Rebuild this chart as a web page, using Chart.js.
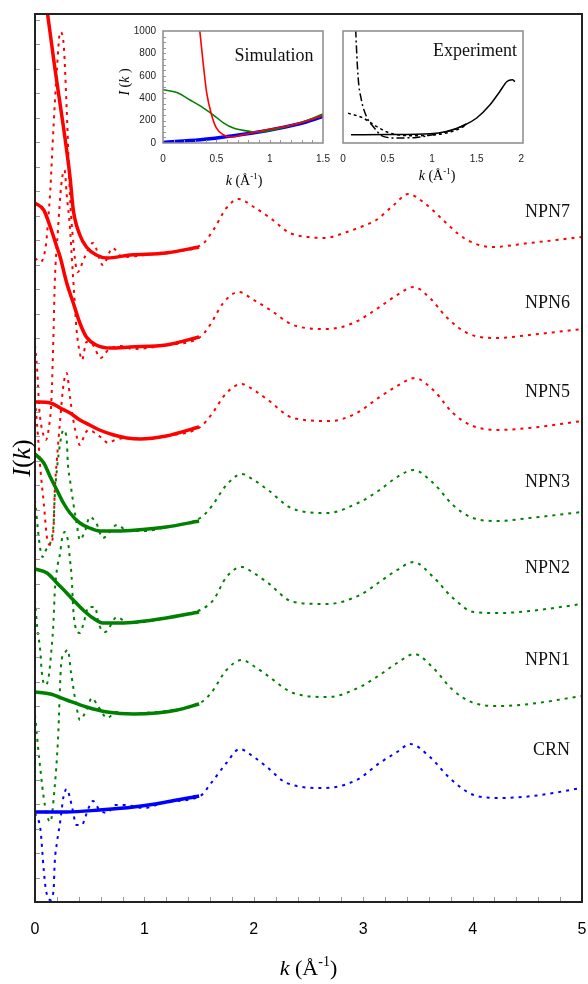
<!DOCTYPE html>
<html>
<head>
<meta charset="utf-8">
<script src="https://cdn.jsdelivr.net/npm/chart.js@4.4.0/dist/chart.umd.min.js"></script>
<style>
  html, body { margin: 0; padding: 0; background: #fff; }
  #wrap { position: relative; width: 588px; height: 984px; }
  #main { position: absolute; left: 0; top: 0; }
  #sim { position: absolute; left: 100px; top: 20px; }
  #exp { position: absolute; left: 335px; top: 20px; }
</style>
</head>
<body>
<div id="wrap">
  <canvas id="main" width="588" height="984"></canvas>
  <canvas id="sim" width="235" height="172"></canvas>
  <canvas id="exp" width="200" height="172"></canvas>
</div>
<script>
/* Stacked I(k) curves (offset, arbitrary units) with two insets.
   Solid = simulation (k <= 1.5), dotted = experiment. */

const SERIF = '"Liberation Serif", "Times New Roman", serif';
const SANS = '"Liberation Sans", Arial, sans-serif';
const RED = '#ff0000', GREEN = '#008000', BLUE = '#0000ff';

// ---- main panel data (k in 1/Å, I offset per sample) ----
const kSolidNPN7 = [0, 0.11, 0.18, 0.26, 0.32, 0.35, 0.41, 0.47, 0.56, 0.66, 0.87, 1.2, 1.5];
const iSolidNPN7 = [97.2, 89.2, 83.5, 77.5, 72.5, 69.2, 66.7, 65.5, 64.7, 64.4, 64.7, 64.9, 65.5];
const kDotNPN7 = [0, 0.05, 0.1, 0.12, 0.14, 0.17, 0.2, 0.23, 0.26, 0.29, 0.32, 0.34, 0.39, 0.45, 0.53, 0.62, 0.71, 0.8, 1.0, 1.2,
  1.52, 1.63, 1.75, 1.86, 2.0, 2.15, 2.33, 2.5, 2.64, 2.85, 3.0, 3.12, 3.28, 3.41, 3.56, 3.73, 3.92, 4.17, 4.52, 5.0];
const iDotNPN7 = [64.4, 64.0, 65.7, 68.2, 71.2, 77.7, 83.2, 87.0, 86.0, 79.2, 70.5, 67.2, 63.0, 64.4, 65.9, 63.7, 65.4, 64.5, 64.7, 65.0,
  65.7, 67.2, 69.4, 70.3, 69.5, 68.4, 66.9, 66.5, 66.4, 67.0, 67.6, 68.2, 69.7, 70.8, 69.9, 68.2, 66.4, 65.5, 65.9, 66.5];

const kSolidNPN6 = [0, 0.08, 0.14, 0.2, 0.23, 0.29, 0.35, 0.41, 0.47, 0.56, 0.69, 0.87, 1.2, 1.5];
const iSolidNPN6 = [69.9, 69.2, 67.5, 65.5, 64.5, 61.9, 59.9, 57.9, 56.5, 55.7, 55.4, 55.5, 55.7, 56.5];
const kDotNPN6 = [0, 0.02, 0.04, 0.07, 0.1, 0.13, 0.15, 0.17, 0.18, 0.21, 0.24, 0.27, 0.29, 0.32, 0.335, 0.36, 0.38, 0.41, 0.43, 0.47,
  0.53, 0.6, 0.67, 0.78, 0.9, 1.2, 1.51, 1.6, 1.72, 1.86, 2.0, 2.15, 2.36, 2.67, 2.91, 3.15, 3.31, 3.46, 3.61, 3.76,
  3.95, 4.22, 4.52, 5.0];
const iDotNPN6 = [55.7, 53.2, 49.2, 47.0, 46.2, 47.7, 50.2, 57.2, 61.7, 67.2, 71.7, 73.2, 70.7, 67.4, 64.7, 60.5, 57.2, 54.9, 54.2, 56.0,
  55.7, 54.4, 55.2, 55.6, 55.3, 55.7, 56.5, 57.7, 59.9, 61.0, 60.2, 59.2, 57.7, 57.3, 57.9, 59.5, 60.7, 61.5, 60.4, 58.5,
  56.9, 56.4, 56.7, 57.3];

const kSolidNPN5 = [0, 0.14, 0.23, 0.32, 0.41, 0.5, 0.59, 0.72, 0.84, 0.96, 1.2, 1.5];
const iSolidNPN5 = [50.0, 49.9, 49.4, 48.9, 48.2, 47.7, 47.2, 46.7, 46.4, 46.3, 46.6, 47.5];
const kDotNPN5 = [0, 0.03, 0.05, 0.08, 0.11, 0.14, 0.17, 0.18, 0.2, 0.23, 0.26, 0.29, 0.32, 0.35, 0.39, 0.41, 0.46, 0.49, 0.55, 0.6,
  0.67, 0.73, 0.85, 1.0, 1.2, 1.51, 1.61, 1.75, 1.89, 2.0, 2.13, 2.36, 2.7, 2.94, 3.15, 3.31, 3.47, 3.64, 3.82, 3.98,
  4.22, 4.52, 5.0];
const iDotNPN5 = [50.2, 46.2, 43.2, 39.9, 36.4, 35.7, 37.5, 40.9, 44.2, 48.2, 51.7, 52.9, 50.5, 48.2, 46.2, 45.7, 46.9, 47.2, 46.9, 46.5,
  45.9, 46.2, 46.4, 46.3, 46.6, 47.5, 48.7, 50.9, 51.8, 51.2, 50.2, 48.4, 48.1, 48.9, 50.5, 51.6, 52.4, 51.2, 48.9, 47.7,
  47.2, 47.4, 48.1];

const kSolidNPN3 = [0, 0.08, 0.14, 0.2, 0.26, 0.32, 0.41, 0.5, 0.59, 0.75, 0.93, 1.2, 1.5];
const iSolidNPN3 = [44.8, 43.9, 42.5, 41.2, 39.9, 38.9, 37.9, 37.4, 37.1, 37.1, 37.2, 37.5, 38.1];
const kDotNPN3 = [0, 0.03, 0.05, 0.07, 0.1, 0.14, 0.17, 0.18, 0.2, 0.23, 0.26, 0.29, 0.3, 0.32, 0.35, 0.38, 0.41, 0.46, 0.5, 0.56,
  0.62, 0.75, 0.85, 1.0, 1.2, 1.51, 1.61, 1.75, 1.89, 2.0, 2.13, 2.36, 2.67, 2.97, 3.15, 3.31, 3.46, 3.64, 3.82, 3.98,
  4.22, 4.52, 5.0];
const iDotNPN3 = [40.2, 36.9, 35.2, 34.5, 35.2, 35.9, 37.9, 40.5, 43.2, 45.9, 47.2, 46.2, 43.9, 42.2, 39.9, 37.9, 36.2, 37.2, 38.5, 37.9,
  36.4, 37.7, 37.1, 37.1, 37.5, 38.4, 39.5, 41.7, 42.8, 42.2, 41.2, 39.3, 38.9, 40.0, 41.2, 42.5, 43.2, 41.9, 39.7, 38.5,
  38.1, 38.4, 39.0];

const kSolidNPN2 = [0, 0.11, 0.2, 0.29, 0.35, 0.44, 0.53, 0.62, 0.78, 0.93, 1.2, 1.5];
const iSolidNPN2 = [33.3, 32.9, 31.9, 30.9, 30.2, 29.2, 28.4, 27.9, 27.9, 28.0, 28.4, 29.0];
const kDotNPN2 = [0, 0.02, 0.05, 0.06, 0.09, 0.12, 0.15, 0.17, 0.18, 0.2, 0.23, 0.245, 0.27, 0.3, 0.32, 0.335, 0.35, 0.37, 0.41, 0.44,
  0.49, 0.55, 0.58, 0.64, 0.75, 0.85, 1.0, 1.2, 1.51, 1.63, 1.75, 1.89, 2.0, 2.13, 2.36, 2.67, 2.97, 3.15, 3.31, 3.46,
  3.64, 3.82, 4.01, 4.25, 4.52, 5.0];
const iDotNPN2 = [30.2, 27.5, 24.9, 23.2, 21.7, 22.2, 25.2, 28.2, 30.9, 33.2, 34.9, 36.2, 37.0, 36.2, 34.2, 32.5, 29.2, 27.5, 26.9, 27.7,
  29.5, 29.5, 27.9, 27.0, 28.5, 27.9, 28.0, 28.4, 29.2, 30.2, 32.5, 33.5, 32.9, 31.9, 30.0, 29.8, 30.7, 32.0, 33.2, 34.0,
  32.5, 30.4, 29.0, 28.9, 29.1, 29.8];

const kSolidNPN1 = [0, 0.14, 0.29, 0.47, 0.66, 0.9, 1.11, 1.3, 1.5];
const iSolidNPN1 = [21.0, 20.8, 20.2, 19.5, 19.0, 18.8, 18.9, 19.2, 19.8];
const kDotNPN1 = [0, 0.04, 0.09, 0.14, 0.18, 0.21, 0.24, 0.27, 0.3, 0.33, 0.38, 0.41, 0.47, 0.52, 0.58, 0.66, 0.74, 0.85, 1.0, 1.2,
  1.51, 1.61, 1.75, 1.89, 2.0, 2.13, 2.36, 2.68, 2.97, 3.15, 3.31, 3.47, 3.64, 3.82, 4.01, 4.25, 4.52, 5.0];
const iDotNPN1 = [18.7, 14.2, 9.7, 8.0, 11.5, 16.2, 23.9, 24.9, 25.2, 22.9, 19.5, 18.2, 19.2, 20.4, 19.5, 18.4, 19.0, 18.8, 18.9, 19.1,
  19.9, 20.9, 23.2, 24.2, 23.6, 22.6, 20.9, 20.5, 21.5, 22.7, 23.9, 24.8, 23.4, 21.2, 19.9, 19.6, 19.8, 20.6];

const kSolidCRN = [0, 0.29, 0.59, 0.9, 1.2, 1.5];
const iSolidCRN = [9.0, 9.0, 9.2, 9.5, 10.0, 10.6];
const kDotCRN = [0, 0.05, 0.08, 0.1, 0.14, 0.17, 0.18, 0.2, 0.23, 0.26, 0.29, 0.32, 0.34, 0.38, 0.43, 0.46, 0.49, 0.53, 0.59, 0.66,
  0.73, 0.81, 1.0, 1.2, 1.51, 1.61, 1.75, 1.87, 2.0, 2.12, 2.3, 2.64, 2.94, 3.15, 3.31, 3.43, 3.61, 3.79, 4.01, 4.25,
  4.55, 5.0];
const iDotCRN = [8.9, 7.2, 3.2, 1.2, 0.2, 1.2, 3.9, 5.9, 8.0, 10.5, 11.3, 10.4, 9.4, 7.7, 7.7, 8.5, 9.4, 10.1, 9.2, 8.9,
  9.7, 9.7, 9.4, 10.0, 10.6, 11.9, 13.9, 15.3, 14.5, 13.5, 11.9, 11.4, 12.2, 13.9, 15.0, 15.8, 14.5, 12.4, 10.7, 10.4,
  10.6, 11.4];

// curve labels and the level they sit at
const sampleNames = ['NPN7', 'NPN6', 'NPN5', 'NPN3', 'NPN2', 'NPN1', 'CRN'];
const sampleLabelLevel = [69.0, 59.9, 51.0, 42.0, 33.4, 24.2, 15.2];

// ---- inset: simulation ----
const kSimBlue = [0, 0.35, 0.66, 0.97, 1.28, 1.5];
const iSimBlue = [5, 29, 65, 110, 172, 237];
const kSimGreen = [0, 0.13, 0.25, 0.38, 0.47, 0.57, 0.66, 0.82, 0.91, 1.04, 1.28, 1.5];
const iSimGreen = [475, 451, 386, 312, 252, 178, 134, 103, 98, 118, 178, 258];
const kSimRed = [0.32, 0.345, 0.38, 0.41, 0.455, 0.5, 0.565, 0.64, 0.75, 0.97, 1.22, 1.5];
const iSimRed = [1260, 1000, 682, 445, 252, 134, 74, 53, 74, 118, 163, 243];

// ---- inset: experiment (arbitrary units) ----
const kExpSolid = [0.09, 0.5, 0.98, 1.16, 1.35, 1.5, 1.65, 1.76, 1.84, 1.9, 1.93];
const iExpSolid = [7.4, 7.6, 8.3, 10.3, 15.4, 22.3, 34.1, 46, 54.9, 56.4, 54.9];
const kExpDashDot = [0.13, 0.143, 0.169, 0.206, 0.263, 0.338, 0.45, 0.6, 0.825, 1.09, 1.24, 1.39];
const iExpDashDot = [130, 100, 59.3, 38.6, 23.7, 14.8, 5.9, 4.5, 5, 8.9, 11.8, 17.2];
const kExpDotted = [0.056, 0.225, 0.375, 0.525, 0.79, 1.05, 1.28, 1.39];
const iExpDotted = [26.7, 22.3, 14.8, 8.9, 6.5, 7.4, 11.8, 16.3];
const expTickValues = [0, 0.5, 1, 1.5, 2];

const Y_MAX = 88.8;     // top of main frame
const Y_TICK = 2.45;    // minor tick spacing on the main y axis

/* ---------- helpers ---------- */

function pts(ks, vals) {
  return ks.map((k, i) => ({ x: k, y: vals[i] }));
}

function line(ks, vals, color, opts) {
  return Object.assign({
    data: pts(ks, vals),
    borderColor: color,
    borderWidth: 1.5,
    pointRadius: 0,
    fill: false,
    cubicInterpolationMode: 'monotone',
  }, opts || {});
}

// invisible tick marks: they only push the labels away from the axis
// (ticks.padding would also widen the chart's side padding)
function gapGrid(len) {
  return { display: true, drawOnChartArea: false, drawTicks: true, tickLength: len, tickColor: 'rgba(0,0,0,0)' };
}

// text made of roman / italic / superscript pieces, centred on (cx, cy)
function drawRich(ctx, parts, cx, cy, size, angle) {
  ctx.save();
  ctx.translate(cx, cy);
  if (angle) ctx.rotate(angle);
  ctx.fillStyle = '#000';
  ctx.textBaseline = 'alphabetic';
  ctx.textAlign = 'left';
  const fontOf = (p) => (p.italic ? 'italic ' : '') + Math.round(p.sup ? size * 0.62 : size) + 'px ' + SERIF;
  let w = 0;
  const widths = parts.map((p) => { ctx.font = fontOf(p); const m = ctx.measureText(p.t).width; w += m; return m; });
  let x = -w / 2;
  const base = size * 0.33;
  parts.forEach((p, i) => {
    ctx.font = fontOf(p);
    ctx.fillText(p.t, x, p.sup ? base - size * 0.4 : base);
    x += widths[i];
  });
  ctx.restore();
}

const K_TITLE = [{ t: 'k', italic: true }, { t: ' (Å' }, { t: '-1', sup: true }, { t: ')' }];
const I_TITLE = [{ t: 'I', italic: true }, { t: '(' }, { t: 'k', italic: true }, { t: ')' }];
const I_TITLE_SMALL = [{ t: 'I', italic: true }, { t: ' (' }, { t: 'k', italic: true }, { t: ' )' }];

/* ---------- main panel ---------- */

const samples = [
  [kSolidNPN7, iSolidNPN7, kDotNPN7, iDotNPN7, RED],
  [kSolidNPN6, iSolidNPN6, kDotNPN6, iDotNPN6, RED],
  [kSolidNPN5, iSolidNPN5, kDotNPN5, iDotNPN5, RED],
  [kSolidNPN3, iSolidNPN3, kDotNPN3, iDotNPN3, GREEN],
  [kSolidNPN2, iSolidNPN2, kDotNPN2, iDotNPN2, GREEN],
  [kSolidNPN1, iSolidNPN1, kDotNPN1, iDotNPN1, GREEN],
  [kSolidCRN, iSolidCRN, kDotCRN, iDotCRN, BLUE],
];

const mainSets = [];
samples.forEach(([ks, is, kd, id, c]) => {
  mainSets.push(line(kd, id, c, { borderWidth: 2, borderDash: [3, 5], order: 2 }));
  mainSets.push(line(ks, is, c, { borderWidth: 3.5, order: 1 }));
});

const mainDecor = {
  id: 'mainDecor',
  afterDraw(chart) {
    const { ctx, chartArea: a, scales: { x, y } } = chart;
    ctx.save();
    // small inward ticks
    ctx.strokeStyle = '#9a9a9a';
    ctx.lineWidth = 1;
    ctx.beginPath();
    for (let v = Y_TICK; v < Y_MAX; v += Y_TICK) {
      const py = Math.round(y.getPixelForValue(v)) + 0.5;
      ctx.moveTo(a.left, py); ctx.lineTo(a.left + 5, py);
    }
    for (let i = 1; i < 25; i++) {
      const px = Math.round(x.getPixelForValue(i * 0.2)) + 0.5;
      ctx.moveTo(px, a.bottom); ctx.lineTo(px, a.bottom - 5);
    }
    ctx.stroke();
    // frame
    ctx.strokeStyle = '#222';
    ctx.lineWidth = 2;
    ctx.strokeRect(a.left, a.top, a.right - a.left, a.bottom - a.top);
    // sample names
    ctx.fillStyle = '#111';
    ctx.font = '18px ' + SERIF;
    ctx.textAlign = 'right';
    ctx.textBaseline = 'middle';
    sampleNames.forEach((n, i) => ctx.fillText(n, x.getPixelForValue(4.89), y.getPixelForValue(sampleLabelLevel[i])));
    // axis titles
    drawRich(ctx, K_TITLE, (a.left + a.right) / 2, 968, 22);
    drawRich(ctx, I_TITLE, 21, (a.top + a.bottom) / 2, 26, -Math.PI / 2);
    ctx.restore();
  },
};

new Chart(document.getElementById('main'), {
  type: 'line',
  data: { datasets: mainSets },
  options: {
    responsive: false,
    animation: false,
    devicePixelRatio: 1,
    layout: { padding: { top: 14, right: 6, left: 0, bottom: 0 } },
    plugins: { legend: { display: false }, tooltip: { enabled: false } },
    scales: {
      x: {
        type: 'linear', min: 0, max: 5,
        grid: gapGrid(18),
        border: { display: false },
        ticks: { stepSize: 1, padding: 0, color: '#000', font: { family: SANS, size: 16 } },
        afterFit: (s) => { s.height = 82; },
      },
      y: {
        type: 'linear', min: 0, max: Y_MAX,
        grid: { display: false, drawTicks: false },
        border: { display: false },
        ticks: { display: false, padding: 0 },
        afterFit: (s) => { s.width = 35; },
      },
    },
  },
  plugins: [mainDecor],
});

/* ---------- insets ---------- */

function insetDecor(id, opts) {
  return {
    id,
    afterDraw(chart) {
      const { ctx, chartArea: a, scales: { x, y } } = chart;
      ctx.save();
      if (opts.ticks) {
        ctx.strokeStyle = '#999';
        ctx.lineWidth = 1;
        ctx.beginPath();
        for (let v = 50; v < 1000; v += 50) {
          const py = Math.round(y.getPixelForValue(v)) + 0.5;
          ctx.moveTo(a.left, py); ctx.lineTo(a.left + 3, py);
        }
        for (let i = 1; i < 15; i++) {
          const px = Math.round(x.getPixelForValue(i * 0.1)) + 0.5;
          ctx.moveTo(px, a.bottom); ctx.lineTo(px, a.bottom - 3);
        }
        ctx.stroke();
      }
      ctx.strokeStyle = '#8a8a8a';
      ctx.lineWidth = 1.5;
      ctx.strokeRect(a.left, a.top, a.right - a.left, a.bottom - a.top);
      ctx.fillStyle = '#111';
      ctx.font = '18px ' + SERIF;
      ctx.textAlign = 'center';
      ctx.textBaseline = 'middle';
      ctx.fillText(opts.name, opts.nameX, opts.nameY);
      drawRich(ctx, K_TITLE, opts.kx, opts.ky, 14);
      if (opts.iTitle) drawRich(ctx, I_TITLE_SMALL, 24, 62, 14, -Math.PI / 2);
      ctx.restore();
    },
  };
}

const insetTickFont = { family: SANS, size: 10 };
const plainLabel = (v) => String(v);

new Chart(document.getElementById('sim'), {
  type: 'line',
  data: {
    datasets: [
      line(kSimBlue, iSimBlue, BLUE, { borderWidth: 3.5, order: 3 }),
      line(kSimGreen, iSimGreen, GREEN, { borderWidth: 1.6, order: 2 }),
      line(kSimRed, iSimRed, RED, { borderWidth: 1.6, order: 1 }),
    ],
  },
  options: {
    responsive: false,
    animation: false,
    devicePixelRatio: 1,
    layout: { padding: { top: 11, right: 12, left: 0, bottom: 0 } },
    plugins: { legend: { display: false }, tooltip: { enabled: false } },
    scales: {
      x: {
        type: 'linear', min: 0, max: 1.5,
        grid: gapGrid(10),
        border: { display: false },
        ticks: { stepSize: 0.5, padding: 0, color: '#222', font: insetTickFont, callback: plainLabel },
        afterFit: (s) => { s.height = 49; },
      },
      y: {
        type: 'linear', min: 0, max: 1000,
        grid: gapGrid(7),
        border: { display: false },
        ticks: { stepSize: 200, padding: 0, color: '#222', font: insetTickFont, callback: plainLabel },
        afterFit: (s) => { s.width = 63; },
      },
    },
  },
  plugins: [insetDecor('simDecor', { ticks: true, name: 'Simulation', nameX: 174, nameY: 36, kx: 144, ky: 160, iTitle: true })],
});

new Chart(document.getElementById('exp'), {
  type: 'line',
  data: {
    datasets: [
      line(kExpDotted, iExpDotted, '#000', { borderWidth: 1.5, borderDash: [3, 3] }),
      line(kExpDashDot, iExpDashDot, '#000', { borderWidth: 1.5, borderDash: [8, 3, 2, 3] }),
      line(kExpSolid, iExpSolid, '#000', { borderWidth: 1.5 }),
    ],
  },
  options: {
    responsive: false,
    animation: false,
    devicePixelRatio: 1,
    layout: { padding: { top: 11, right: 12, left: 0, bottom: 0 } },
    plugins: { legend: { display: false }, tooltip: { enabled: false } },
    scales: {
      x: {
        type: 'linear', min: 0, max: 2.02,
        grid: gapGrid(10),
        border: { display: false },
        afterBuildTicks: (s) => { s.ticks = expTickValues.map((v) => ({ value: v })); },
        ticks: { padding: 0, color: '#222', font: insetTickFont, callback: plainLabel },
        afterFit: (s) => { s.height = 49; },
      },
      y: {
        type: 'linear', min: 0, max: 100,
        grid: { display: false, drawTicks: false },
        border: { display: false },
        ticks: { display: false, padding: 0 },
        afterFit: (s) => { s.width = 8; },
      },
    },
  },
  plugins: [insetDecor('expDecor', { ticks: false, name: 'Experiment', nameX: 140, nameY: 31, kx: 102, ky: 155, iTitle: false })],
});
</script>
</body>
</html>
